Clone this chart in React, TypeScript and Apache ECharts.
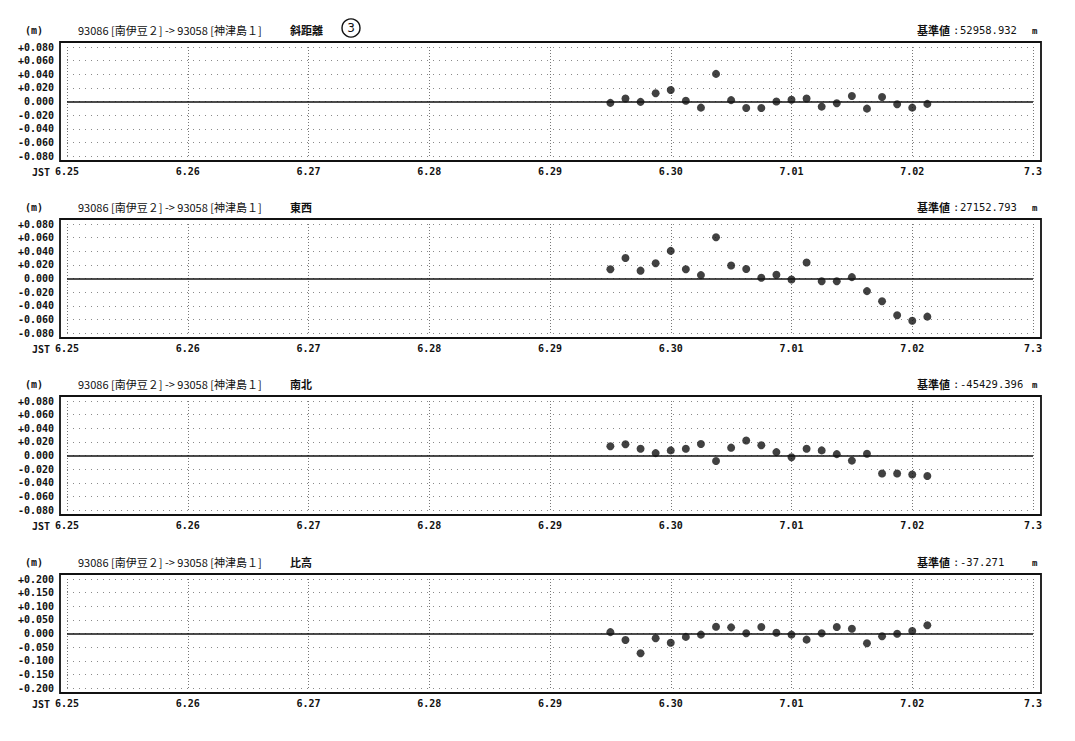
import React, { useEffect, useRef } from "react";
import * as echarts from "echarts";

// ---- data ----
const dayLabels = ["6.25", "6.26", "6.27", "6.28", "6.29", "6.30", "7.01", "7.02", "7.3"];
// hours since 6/25 00:00 (JST), 3-hourly solutions
const sampleHours = [108, 111, 114, 117, 120, 123, 126, 129, 132, 135, 138, 141, 144, 147, 150, 153, 156, 159, 162, 165, 168, 171];
const slantDistance = [-0.002, 0.0045, -0.0005, 0.012, 0.017, 0.001, -0.009, 0.0405, 0.002, -0.0095, -0.0095, 0.0, 0.0025, 0.0045, -0.0075, -0.0025, 0.008, -0.0105, 0.0065, -0.004, -0.009, -0.0035];
const eastWest = [0.0135, 0.03, 0.0115, 0.0225, 0.0405, 0.0135, 0.005, 0.0605, 0.019, 0.014, 0.001, 0.0055, -0.0015, 0.0235, -0.004, -0.004, 0.002, -0.0185, -0.0335, -0.054, -0.062, -0.056];
const northSouth = [0.0135, 0.0165, 0.01, 0.0035, 0.0075, 0.01, 0.017, -0.008, 0.0115, 0.022, 0.015, 0.005, -0.0025, 0.01, 0.0075, 0.002, -0.0075, 0.0025, -0.0265, -0.0265, -0.028, -0.03];
const relHeight = [0.005, -0.024, -0.0725, -0.0175, -0.034, -0.0125, -0.004, 0.025, 0.0225, 0.001, 0.024, 0.0025, -0.004, -0.0225, 0.001, 0.024, 0.0175, -0.036, -0.01, -0.001, 0.009, 0.03];

const panelTitles = ["斜距離", "東西", "南北", "比高"];
const baseValues = ["52958.932", "27152.793", "-45429.396", "-37.271"];
const yLimits = [0.08, 0.08, 0.08, 0.2];
const yIntervals = [0.02, 0.02, 0.02, 0.05];
const routeLabel = "93086 [南伊豆２] -> 93058 [神津島１]";
const seriesValues = [slantDistance, eastWest, northSouth, relHeight];

const MONO = "'DejaVu Sans Mono', 'Liberation Mono', monospace";
const CJK = "'Noto Sans CJK JP', 'DejaVu Sans', sans-serif";

export default function App() {
  const ref = useRef<HTMLDivElement>(null);

  useEffect(() => {
    if (!ref.current) return;
    const chart = echarts.init(ref.current, undefined, { renderer: "svg" });

    const frameTops = [42, 219, 396, 574];
    const frameH = 119;
    const frameLeft = 60;
    const frameW = 981;
    const gridLeft = 67;
    const gridW = 966;

    const grids: any[] = [];
    const xAxes: any[] = [];
    const yAxes: any[] = [];
    const series: any[] = [];
    const graphics: any[] = [];

    frameTops.forEach((top, i) => {
      grids.push({ left: gridLeft, width: gridW, top: top + 5, height: frameH - 10, containLabel: false });
      xAxes.push({
        type: "value",
        gridIndex: i,
        min: 0,
        max: 192,
        interval: 24,
        axisLine: { show: false },
        axisTick: { show: false },
        axisLabel: {
          show: true,
          margin: 10,
          color: "#111",
          fontFamily: MONO,
          fontSize: 10,
          fontWeight: "bold",
          showMinLabel: true,
          showMaxLabel: true,
          formatter: (v: number) => dayLabels[Math.round(v / 24)] ?? "",
        },
        splitLine: { show: true, lineStyle: { color: "#777", width: 1, type: [1, 2] } },
      });
      const lim = yLimits[i];
      yAxes.push({
        type: "value",
        gridIndex: i,
        min: -lim,
        max: lim,
        interval: yIntervals[i],
        axisLine: { show: false },
        axisTick: { show: false },
        axisLabel: {
          margin: 13,
          color: "#111",
          fontFamily: MONO,
          fontSize: 10,
          fontWeight: "bold",
          showMinLabel: true,
          showMaxLabel: true,
          formatter: (v: number) => {
            const r = Math.round(v * 1000) / 1000;
            if (Math.abs(r) < 1e-9) return "0.000";
            return r > 0 ? "+" + r.toFixed(3) : r.toFixed(3);
          },
        },
        splitLine: { show: true, lineStyle: { color: "#8a8a8a", width: 1, type: [1, 5] } },
      });
      series.push({
        type: "scatter",
        xAxisIndex: i,
        yAxisIndex: i,
        symbol: "circle",
        symbolSize: 8,
        itemStyle: { color: "#111" },
        data: sampleHours.map((h, k) => [h, seriesValues[i][k]]),
        markLine: {
          silent: true,
          symbol: ["none", "none"],
          label: { show: false },
          lineStyle: { color: "#111", width: 1.5, type: "solid" },
          data: [{ yAxis: 0 }],
        },
        z: 5,
      });

      // frame
      graphics.push({
        type: "rect",
        shape: { x: frameLeft, y: top, width: frameW, height: frameH },
        style: { fill: "none", stroke: "#111", lineWidth: 1.8 },
        z: 10,
      });
      const hy = top - 12;
      graphics.push({ type: "text", x: 25, y: hy, style: { text: "(m)", fill: "#111", fontFamily: MONO, fontSize: 10, fontWeight: "bold", verticalAlign: "middle" } });
      graphics.push({ type: "text", x: 78, y: hy, style: { text: routeLabel, fill: "#111", fontFamily: CJK, fontSize: 11, verticalAlign: "middle" } });
      graphics.push({ type: "text", x: 290, y: hy, style: { text: panelTitles[i], fill: "#111", fontFamily: CJK, fontSize: 11, fontWeight: "bold", verticalAlign: "middle" } });
      graphics.push({ type: "text", x: 917, y: hy, style: { text: "基準値", fill: "#111", fontFamily: CJK, fontSize: 11, fontWeight: "bold", verticalAlign: "middle" } });
      graphics.push({ type: "text", x: 953, y: hy, style: { text: ":", fill: "#111", fontFamily: MONO, fontSize: 10.5, verticalAlign: "middle" } });
      graphics.push({ type: "text", x: 960, y: hy, style: { text: baseValues[i], fill: "#111", fontFamily: MONO, fontSize: 10.5, verticalAlign: "middle" } });
      graphics.push({ type: "text", x: 1032, y: hy + 1, style: { text: "m", fill: "#111", fontFamily: MONO, fontSize: 9, fontWeight: "bold", verticalAlign: "middle" } });
      graphics.push({ type: "text", x: 32, y: top + frameH + 11, style: { text: "JST", fill: "#111", fontFamily: MONO, fontSize: 10, fontWeight: "bold", verticalAlign: "middle" } });
    });

    // circled number on first panel
    graphics.push({ type: "circle", shape: { cx: 351, cy: 28, r: 9 }, style: { fill: "none", stroke: "#111", lineWidth: 1.4 } });
    graphics.push({ type: "text", x: 351, y: 28, style: { text: "3", fill: "#111", fontFamily: "'DejaVu Sans', sans-serif", fontSize: 12, align: "center", verticalAlign: "middle" } });

    chart.setOption({
      animation: false,
      backgroundColor: "#fff",
      grid: grids,
      xAxis: xAxes,
      yAxis: yAxes,
      series,
      graphic: graphics,
    });

    return () => chart.dispose();
  }, []);

  return <div ref={ref} style={{ position: "fixed", left: 0, top: 0, width: 1075, height: 741, background: "#fff" }} />;
}
